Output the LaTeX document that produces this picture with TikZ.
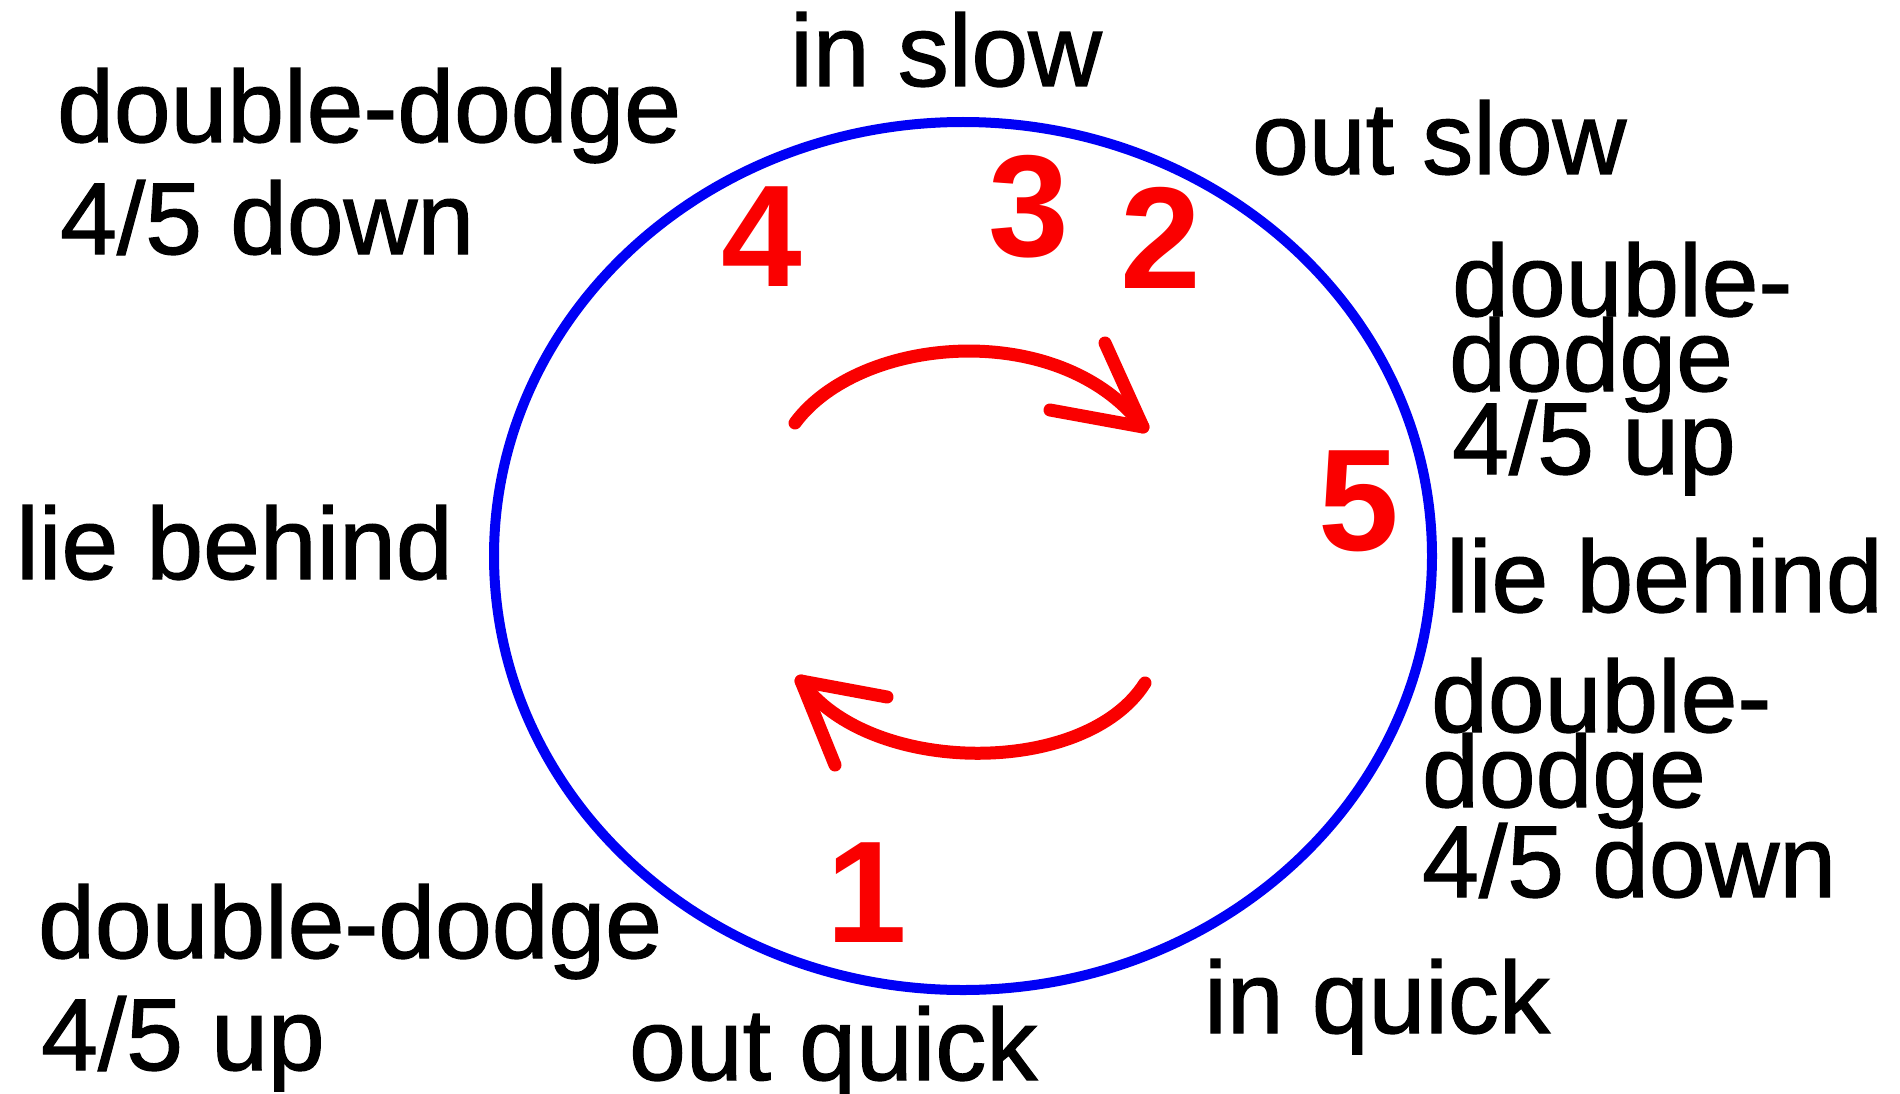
\documentclass[tikz,border=0pt]{standalone}
\usepackage{fontspec}
\setmainfont{Liberation Sans}
\newfontfamily\lblfont[FakeBold=1.2]{Liberation Sans}
\definecolor{ringblue}{RGB}{0,0,245}
\definecolor{arrred}{RGB}{250,0,0}
\begin{document}
\begin{tikzpicture}[x=1pt,y=-1pt,
  lbl/.style={font=\lblfont\fontsize{102}{102}\selectfont, anchor=base west, inner sep=0pt, text=black},
  num/.style={font=\bfseries\fontsize{145}{145}\selectfont, anchor=base, inner sep=0pt, text=arrred},
  ringline/.style={draw=ringblue, line width=10pt},
  arrline/.style={draw=arrred, line width=13pt, line cap=round, line join=round}]
\fill[white] (0,0) rectangle (1900,1094);
\useasboundingbox (0,0) rectangle (1900,1094);
% ring
\coordinate (ringc) at (963,556);
\draw[ringline] (ringc) ellipse [x radius=469pt, y radius=434pt];
% labels
\node[lbl] (tl1) at (57,142) {double-dodge};
\node[lbl] (tl2) at (60,254) {4/5 down};
\node[lbl] (inslow) at (790,86) {in slow};
\node[lbl] (outslow) at (1252,174) {out slow};
\node[lbl] (ru1) at (1452,316) {double-};
\node[lbl] (ru2) at (1449,391) {dodge};
\node[lbl] (ru3) at (1452,474) {4/5 up};
\node[lbl] (lieL) at (16,579) {lie behind};
\node[lbl] (lieR) at (1446,612) {lie behind};
\node[lbl] (rd1) at (1431,732) {double-};
\node[lbl] (rd2) at (1422,807) {dodge};
\node[lbl] (rd3) at (1422,897) {4/5 down};
\node[lbl] (inquick) at (1204,1033) {in quick};
\node[lbl] (bl1) at (38,958) {double-dodge};
\node[lbl] (bl2) at (41,1070) {4/5 up};
\node[lbl] (outquick) at (629,1080) {out quick};
% numbers
\node[num] (n4) at (762,286) {4};
\node[num] (n3) at (1029,256) {3};
\node[num] (n2) at (1161,288) {2};
\node[num] (n5) at (1359,550) {5};
\node[num] (n1) at (867,942) {1};
% upper arrow
\coordinate (uS) at (795,423);
\coordinate (uT) at (1143,427);
\coordinate (uB1) at (1105,343);
\coordinate (uB2) at (1050,410);
\draw[arrline] (uS) .. controls (860,335) and (1060,318) .. (uT);
\draw[arrline] (uB1) -- (uT) -- (uB2);
% lower arrow
\coordinate (lS) at (1145,683);
\coordinate (lT) at (801,681);
\coordinate (lB1) at (887,697);
\coordinate (lB2) at (835,765);
\draw[arrline] (lS) .. controls (1085,778) and (868,776) .. (lT);
\draw[arrline] (lB1) -- (lT) -- (lB2);
\end{tikzpicture}
\end{document}
